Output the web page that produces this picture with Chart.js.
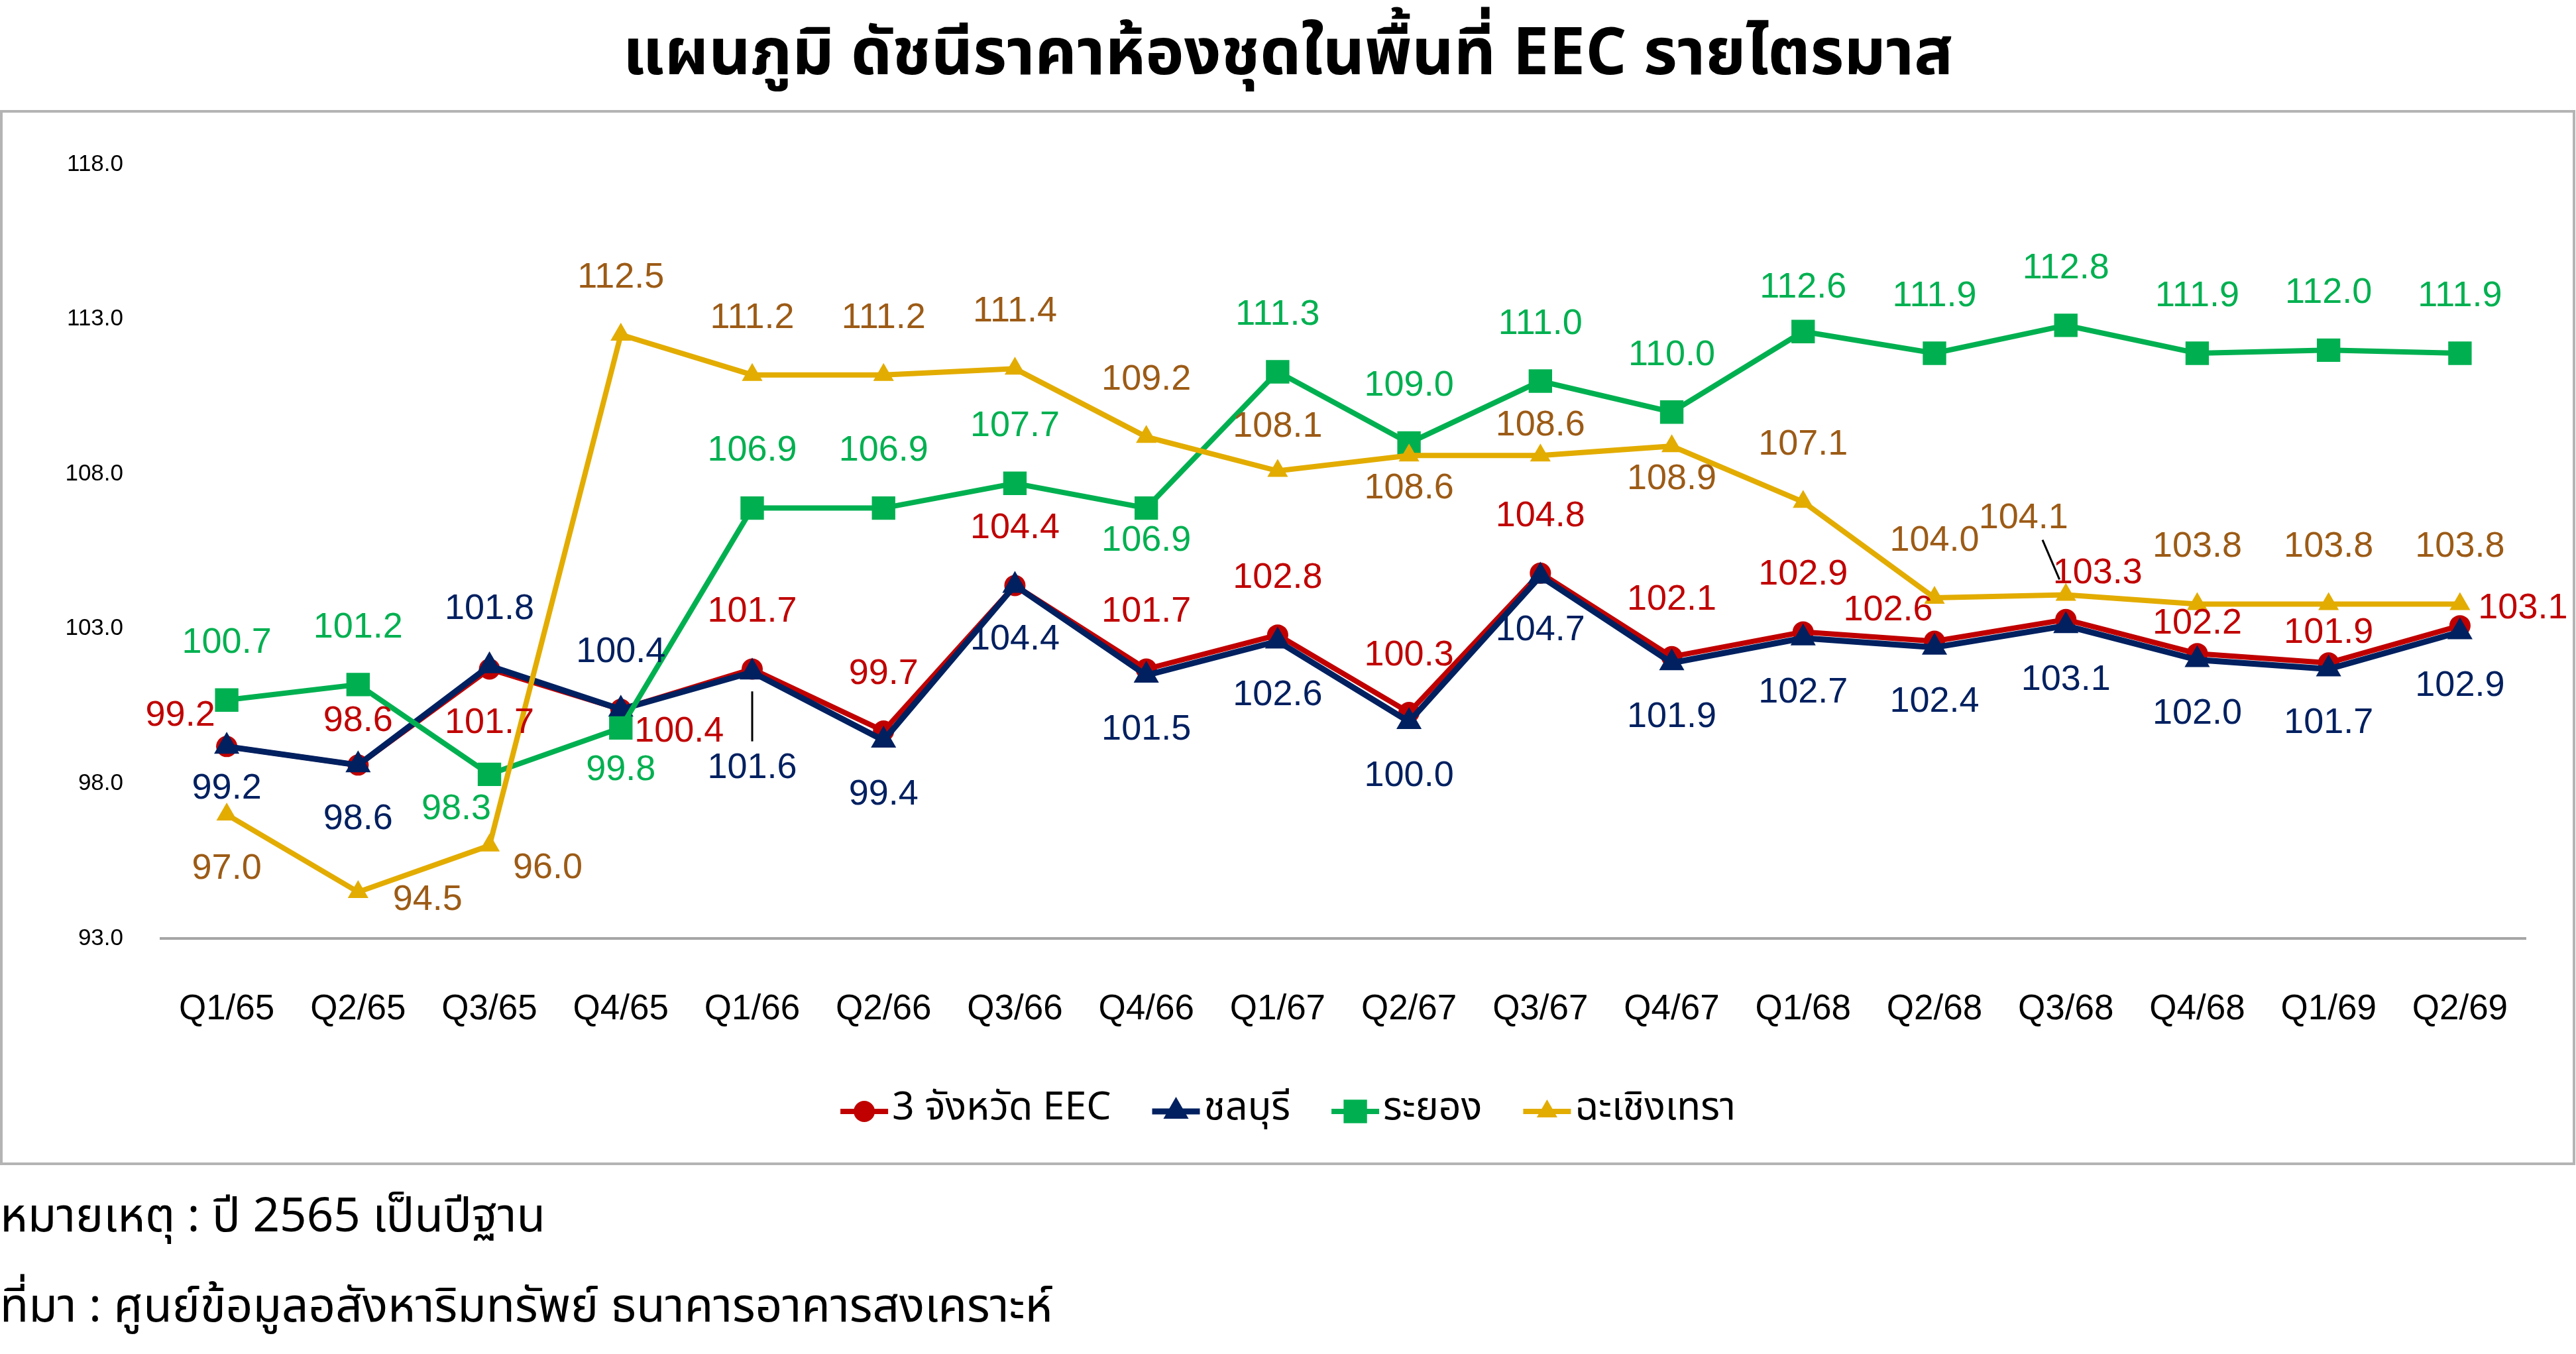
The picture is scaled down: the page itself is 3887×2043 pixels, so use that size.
<!DOCTYPE html>
<html lang="th">
<head>
<meta charset="utf-8">
<title>ดัชนีราคาห้องชุดในพื้นที่ EEC</title>
<script src="https://cdn.jsdelivr.net/npm/chart.js@4.4.1/dist/chart.umd.min.js"></script>
<style>
  html, body { margin: 0; padding: 0; background: #fff; }
  body { width: 3887px; height: 2043px; position: relative; overflow: hidden;
         font-family: Tahoma, "Noto Sans Thai", "Liberation Sans", sans-serif; color: #000; }
  #title { position: absolute; left: 0; top: 14px; width: 3887px; line-height: 136px;
           text-align: center; font-size: 98px; font-weight: bold; }
  #frame { position: absolute; left: 0; top: 166px; width: 3878px; height: 1584px;
           border: 4px solid #b4b4b4; }
  #chart { position: absolute; left: 0; top: 0; }
  .note { position: absolute; left: 0; line-height: 100px; font-size: 71px; white-space: nowrap; }
</style>
</head>
<body>
<div id="title">แผนภูมิ ดัชนีราคาห้องชุดในพื้นที่ EEC รายไตรมาส</div>
<div id="frame"></div>
<canvas id="chart" width="3887" height="2043"></canvas>
<div class="note" style="top:1787px">หมายเหตุ : ปี 2565 เป็นปีฐาน</div>
<div class="note" style="top:1923px">ที่มา : ศูนย์ข้อมูลอสังหาริมทรัพย์ ธนาคารอาคารสงเคราะห์</div>

<script>
// quarters (Thai Buddhist year)
const quarters = ['Q1/65', 'Q2/65', 'Q3/65', 'Q4/65', 'Q1/66', 'Q2/66', 'Q3/66', 'Q4/66', 'Q1/67',
                  'Q2/67', 'Q3/67', 'Q4/67', 'Q1/68', 'Q2/68', 'Q3/68', 'Q4/68', 'Q1/69', 'Q2/69'];

const eecValues = [99.2, 98.6, 101.7, 100.4, 101.7, 99.7, 104.4, 101.7, 102.8,
                   100.3, 104.8, 102.1, 102.9, 102.6, 103.3, 102.2, 101.9, 103.1];
const chonburiValues = [99.2, 98.6, 101.8, 100.4, 101.6, 99.4, 104.4, 101.5, 102.6,
                        100.0, 104.7, 101.9, 102.7, 102.4, 103.1, 102.0, 101.7, 102.9];
const rayongValues = [100.7, 101.2, 98.3, 99.8, 106.9, 106.9, 107.7, 106.9, 111.3,
                      109.0, 111.0, 110.0, 112.6, 111.9, 112.8, 111.9, 112.0, 111.9];
const chachoengsaoValues = [97.0, 94.5, 96.0, 112.5, 111.2, 111.2, 111.4, 109.2, 108.1,
                            108.6, 108.6, 108.9, 107.1, 104.0, 104.1, 103.8, 103.8, 103.8];

const yMin = 93;
const yMax = 118;
const yStep = 5;

// where each value label sits relative to its point
const eecLabelPos = ['al', 'am', 'b', 'rb', 'a', 'a', 'a', 'a', 'a', 'a', 'a', 'a', 'a', 'al', 'ar', 'as', 'as', 'r'];
const chonburiLabelPos = ['bm', 'b', 'a', 'a', 'bf', 'b', 'b', 'b', 'b', 'b', 'b', 'b', 'b', 'b', 'b', 'b', 'b', 'b'];
const rayongLabelPos = ['a', 'a', 'bl', 'bm', 'a', 'a', 'a', 'bs', 'a', 'a', 'a', 'a', 'am', 'a', 'a', 'a', 'a', 'a'];
const chachoengsaoLabelPos = ['b', 'rr', 'rb', 'a', 'a', 'a', 'a', 'a', 'am', 'bs', 'as', 'bs', 'a', 'a', 'alf', 'a', 'a', 'a'];

const labelShift = {
  a: [0, -86], am: [0, -66], as: [0, -45],
  b: [0, 82], bm: [0, 64], bs: [0, 50], bf: [0, 145],
  al: [-70, -46], alf: [-64, -115], ar: [48, -70],
  r: [95, -26], rb: [88, 34], rr: [105, 12], bl: [-50, 53]
};
const leaderCodes = ['bf', 'alf'];

const FONT = '"Liberation Sans", Arial, sans-serif';
const THAI_FONT = 'Tahoma, "Noto Sans Thai", "Liberation Sans", sans-serif';

const series = [
  { label: '3 จังหวัด EEC', data: eecValues, color: '#C00000', text: '#C00000',
    style: 'circle', radius: 16, width: 8, order: 4, pos: eecLabelPos },
  { label: 'ชลบุรี', data: chonburiValues, color: '#002060', text: '#002060',
    style: 'triangle', radius: 22, width: 9, order: 3, pos: chonburiLabelPos },
  { label: 'ระยอง', data: rayongValues, color: '#00B050', text: '#00B050',
    style: 'rect', radius: 25, width: 8, order: 2, pos: rayongLabelPos },
  { label: 'ฉะเชิงเทรา', data: chachoengsaoValues, color: '#E3AC00', text: '#9C5B16',
    style: 'triangle', radius: 18, width: 8, order: 1, pos: chachoengsaoLabelPos }
];

function marker(ctx, style, r, x, y) {
  ctx.beginPath();
  if (style === 'circle') {
    ctx.arc(x, y, r, 0, Math.PI * 2);
  } else if (style === 'rect') {
    const s = r * Math.SQRT1_2;
    ctx.rect(x - s, y - s, s * 2, s * 2);
  } else {
    ctx.moveTo(x, y - r);
    ctx.lineTo(x + r * 0.866, y + r * 0.5);
    ctx.lineTo(x - r * 0.866, y + r * 0.5);
    ctx.closePath();
  }
  ctx.fill();
}

const valueLabels = {
  id: 'valueLabels',
  afterDatasetsDraw(chart) {
    const ctx = chart.ctx;
    ctx.save();
    ctx.font = '54px ' + FONT;
    ctx.textAlign = 'center';
    ctx.textBaseline = 'middle';
    series.forEach((s, i) => {
      chart.getDatasetMeta(i).data.forEach((pt, j) => {
        const code = s.pos[j];
        const [dx, dy] = labelShift[code];
        if (leaderCodes.includes(code)) {
          ctx.strokeStyle = '#000';
          ctx.lineWidth = 3;
          ctx.beginPath();
          ctx.moveTo(pt.x + dx * 0.15, pt.y + dy * 0.2);
          ctx.lineTo(pt.x + dx * 0.55, pt.y + dy * 0.72);
          ctx.stroke();
        }
        ctx.fillStyle = s.text;
        ctx.fillText(s.data[j].toFixed(1), pt.x + dx, pt.y + dy);
      });
    });
    ctx.restore();
  }
};

const bottomLegend = {
  id: 'bottomLegend',
  afterDraw(chart) {
    const ctx = chart.ctx;
    ctx.save();
    ctx.font = '59px ' + THAI_FONT;
    ctx.textBaseline = 'middle';
    const lineLen = 72, textGap = 6, itemGap = 62;
    const widths = series.map(s => ctx.measureText(s.label).width);
    const total = widths.reduce((a, w) => a + lineLen + textGap + w, 0) + itemGap * (series.length - 1);
    let x = (chart.width - total) / 2;
    const y = chart.chartArea.bottom + 261;
    series.forEach((s, i) => {
      ctx.strokeStyle = s.color;
      ctx.lineWidth = s.width;
      ctx.beginPath();
      ctx.moveTo(x, y);
      ctx.lineTo(x + lineLen, y);
      ctx.stroke();
      ctx.fillStyle = s.color;
      marker(ctx, s.style, s.radius, x + lineLen / 2, y);
      ctx.fillStyle = '#000';
      ctx.fillText(s.label, x + lineLen + textGap, y);
      x += lineLen + textGap + widths[i] + itemGap;
    });
    ctx.restore();
  }
};

new Chart(document.getElementById('chart'), {
  type: 'line',
  data: {
    labels: quarters,
    datasets: series.map(s => ({
      label: s.label,
      data: s.data,
      borderColor: s.color,
      backgroundColor: s.color,
      borderWidth: s.width,
      pointStyle: s.style,
      pointRadius: s.radius,
      pointBackgroundColor: s.color,
      pointBorderWidth: 0,
      tension: 0,
      fill: false,
      order: s.order
    }))
  },
  options: {
    responsive: false,
    animation: false,
    devicePixelRatio: 1,
    layout: { padding: { left: 60, top: 248, right: 76, bottom: 427 } },
    plugins: { legend: { display: false }, tooltip: { enabled: false } },
    scales: {
      x: {
        type: 'category',
        offset: true,
        grid: { display: false, drawTicks: false },
        border: { display: true, color: '#a6a6a6', width: 4 },
        ticks: { color: '#000', font: { size: 53, family: FONT }, padding: 76,
                 maxRotation: 0, autoSkip: false },
        afterFit(scale) { scale.height = 200; }
      },
      y: {
        min: yMin,
        max: yMax,
        grid: { display: false, drawTicks: false },
        border: { display: false },
        ticks: { stepSize: yStep, color: '#000', font: { size: 35, family: FONT }, padding: 57,
                 callback: v => v.toFixed(1) },
        afterFit(scale) { scale.width = 183; }
      }
    }
  },
  plugins: [valueLabels, bottomLegend]
});
</script>
</body>
</html>
